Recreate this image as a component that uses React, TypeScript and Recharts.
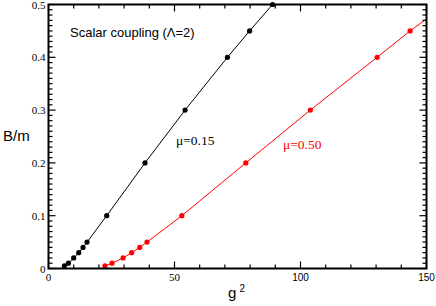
import { LineChart, Line, XAxis, YAxis } from 'recharts';

// g^2 values and B/m for the two couplings
const blackG2 = [6.3, 7.9, 10.0, 12.0, 13.7, 15.3, 23.1, 38.3, 54.2, 71.0, 79.8, 88.9];
const blackB = [0.005, 0.01, 0.02, 0.03, 0.04, 0.05, 0.1, 0.2, 0.3, 0.4, 0.45, 0.5];
// last red value is where the line leaves the frame at g^2 = 150 (no marker there)
const redG2 = [22.4, 25.2, 29.6, 33.0, 36.2, 39.1, 52.9, 78.3, 103.9, 130.4, 143.5, 150];
const redB = [0.005, 0.01, 0.02, 0.03, 0.04, 0.05, 0.1, 0.2, 0.3, 0.4, 0.45, 0.4725];

const xTicks = [0, 10, 20, 30, 40, 50, 60, 70, 80, 90, 100, 110, 120, 130, 140, 150];
const xMajor = [0, 50, 100, 150];
const xLabels = ['0', '50', '100', '150'];
const yMajor = [0, 0.1, 0.2, 0.3, 0.4, 0.5];
const yLabels = ['0', '0.1', '0.2', '0.3', '0.4', '0.5'];
const yTicks = Array.from({ length: 51 }, (_, i) => i / 100);

const blackData = blackG2.map((g2, i) => ({ g2, b: blackB[i] }));
const redData = redG2.map((g2, i) => ({ g2, b: redB[i] }));

const W = 436;
const H = 306;
const M = { top: 4.5, right: 9.5, bottom: 7.5, left: 0 };
const Y_AXIS_W = 48.5;
const X_AXIS_H = 30;
const X_MAX = 150;
const Y_MAX = 0.5;
// plot box, same as what the chart margins give
const PL = M.left + Y_AXIS_W;
const PR = W - M.right;
const PT = M.top;
const PB = H - M.bottom - X_AXIS_H;
const px = (v: number) => PL + (v / X_MAX) * (PR - PL);
const py = (v: number) => PB - (v / Y_MAX) * (PB - PT);
const MAJOR = 7;
const MINOR = 4;

const SERIF = '"Liberation Serif", "Times New Roman", serif';
const SANS = '"Liberation Sans", Arial, sans-serif';

const near = (v: number, list: number[]) => list.findIndex((m) => Math.abs(m - v) < 1e-6);

function BottomTick(props: any) {
  const { x, y, payload } = props;
  const idx = near(payload.value, xMajor);
  if (idx < 0) return <g />;
  return (
    <text
      x={x}
      y={y + 12.5}
      textAnchor="middle"
      fontFamily={payload.value >= 100 ? SANS : SERIF}
      fontSize={payload.value >= 100 ? 10 : 11}
      fill="#000"
    >
      {xLabels[idx]}
    </text>
  );
}

function LeftTick(props: any) {
  const { x, y, payload } = props;
  const idx = near(payload.value, yMajor);
  if (idx < 0) return <g />;
  return (
    <text x={x - 3} y={y + 4} textAnchor="end" fontFamily={SERIF} fontSize={11} fill="#000">
      {yLabels[idx]}
    </text>
  );
}

function makeDot(color: string) {
  return (props: any) => {
    const { cx, cy, payload, index } = props;
    if (payload.g2 >= X_MAX) return <g key={`d${index}`} />;
    return <circle key={`d${index}`} cx={cx} cy={cy} r={2.6} fill={color} stroke="none" />;
  };
}

// frame + inward minor/major ticks on all four sides
function Frame() {
  const lines: any[] = [];
  xTicks.forEach((t) => {
    const len = near(t, xMajor) >= 0 ? MAJOR : MINOR;
    const x = px(t);
    lines.push(<line key={`b${t}`} x1={x} y1={PB} x2={x} y2={PB - len} stroke="#000" strokeWidth={1.2} />);
    lines.push(<line key={`t${t}`} x1={x} y1={PT} x2={x} y2={PT + len} stroke="#000" strokeWidth={1.2} />);
  });
  yTicks.forEach((t) => {
    const len = near(t, yMajor) >= 0 ? MAJOR : MINOR;
    const y = py(t);
    lines.push(<line key={`l${t}`} x1={PL} y1={y} x2={PL + len} y2={y} stroke="#000" strokeWidth={1.2} />);
    lines.push(<line key={`r${t}`} x1={PR} y1={y} x2={PR - len} y2={y} stroke="#000" strokeWidth={1.2} />);
  });
  lines.push(
    <rect key="box" x={PL} y={PT} width={PR - PL} height={PB - PT} fill="none" stroke="#000" strokeWidth={2} />
  );
  return <g>{lines}</g>;
}

export default function App() {
  return (
    <div style={{ position: 'absolute', left: 0, top: 0, width: W, height: H, background: '#fff' }}>
      <LineChart width={W} height={H} margin={M}>
        <XAxis
          dataKey="g2"
          type="number"
          domain={[0, X_MAX]}
          ticks={xTicks}
          interval={0}
          height={X_AXIS_H}
          tickSize={0}
          tickMargin={0}
          tickLine={false}
          tick={<BottomTick />}
          axisLine={false}
        />
        <YAxis
          type="number"
          domain={[0, Y_MAX]}
          ticks={yTicks}
          interval={0}
          width={Y_AXIS_W}
          tickSize={0}
          tickMargin={0}
          tickLine={false}
          tick={<LeftTick />}
          axisLine={false}
        />
        <Line
          data={blackData}
          dataKey="b"
          type="linear"
          stroke="#000"
          strokeWidth={1}
          dot={makeDot('#000')}
          activeDot={false}
          isAnimationActive={false}
        />
        <Line
          data={redData}
          dataKey="b"
          type="linear"
          stroke="#ff0000"
          strokeWidth={1}
          dot={makeDot('#ff0000')}
          activeDot={false}
          isAnimationActive={false}
        />
      </LineChart>
      <svg width={W} height={H} style={{ position: 'absolute', left: 0, top: 0, pointerEvents: 'none' }}>
        <Frame />
        <text x={70} y={37} fontFamily={SANS} fontSize={13} fill="#000">
          Scalar coupling (Λ=2)
        </text>
        <text x={176} y={145} fontFamily={SERIF} fontSize={13.5} fill="#000">
          μ=0.15
        </text>
        <text x={283} y={149} fontFamily={SERIF} fontSize={13.5} fill="#ff0000">
          μ=0.50
        </text>
        <text x={3} y={141} fontFamily={SANS} fontSize={15} fill="#000">
          B/m
        </text>
        <text x={228} y={298} fontFamily={SANS} fontSize={15} fill="#000">
          g
        </text>
        <text x={239.5} y={291.5} fontFamily={SANS} fontSize={10} fill="#000">
          2
        </text>
      </svg>
    </div>
  );
}
